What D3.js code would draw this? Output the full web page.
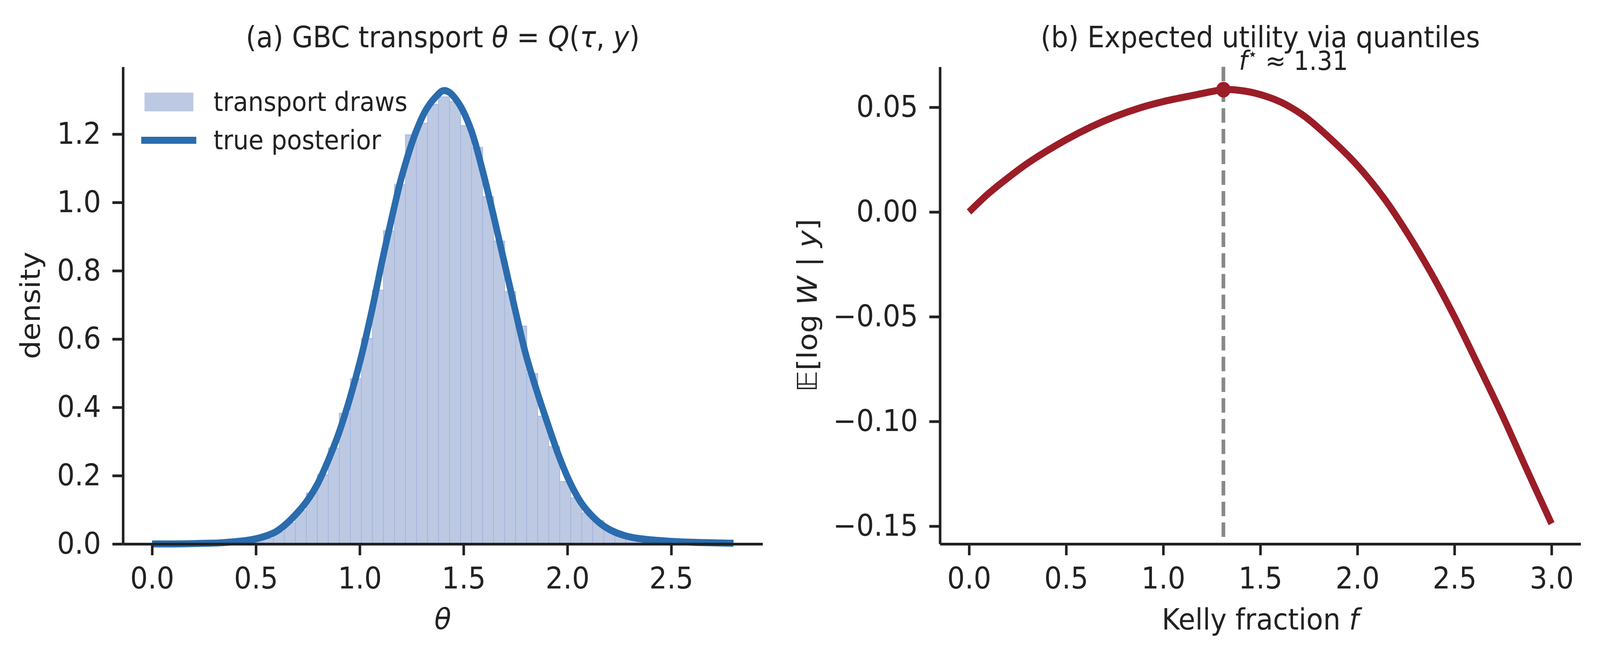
<!DOCTYPE html>
<html>
<head>
<meta charset="utf-8">
<script src="https://cdn.jsdelivr.net/npm/d3@7"></script>
<style>
  html, body { margin: 0; padding: 0; background: #fff; overflow: hidden; }
  svg { display: block; }
  text { font-family: "DejaVu Sans", sans-serif; fill: #222; }
</style>
</head>
<body>
<div id="viz"></div>
<script>
// ---- data ----
// (a) histogram of transport draws: first bin edge, bin width, density per bin
const histStart = 0.0;
const histBinWidth = 0.05306;
const histDensity = [
  0, 0, 0, 0, 0, 0.001, 0.001, 0.002, 0.003, 0.006,
  0.016, 0.035, 0.062, 0.098, 0.149, 0.203, 0.281, 0.383, 0.484, 0.602,
  0.743, 0.917, 1.052, 1.198, 1.232, 1.287, 1.309, 1.295, 1.225, 1.161,
  1.017, 0.887, 0.739, 0.638, 0.499, 0.374, 0.285, 0.183, 0.135, 0.091,
  0.068, 0.046, 0.030, 0.020, 0.013, 0.008, 0.005, 0.003, 0.002, 0.001
];

// (a) true posterior density
const postTheta = [0.00, 0.10, 0.20, 0.27, 0.32, 0.365, 0.406, 0.453, 0.50, 0.547,
  0.594, 0.637, 0.687, 0.740, 0.792, 0.845, 0.898, 0.953, 1.006, 1.058,
  1.111, 1.165, 1.202, 1.271, 1.323, 1.377, 1.400, 1.430, 1.483, 1.537,
  1.590, 1.643, 1.695, 1.749, 1.802, 1.856, 1.909, 1.962, 2.015, 2.067,
  2.122, 2.174, 2.227, 2.284, 2.342, 2.401, 2.518, 2.650, 2.800];
const postDensity = [0.000, 0.000, 0.001, 0.002, 0.003, 0.005, 0.007, 0.010, 0.015, 0.023,
  0.035, 0.054, 0.083, 0.121, 0.170, 0.240, 0.322, 0.427, 0.545, 0.682,
  0.837, 0.983, 1.075, 1.207, 1.275, 1.316, 1.327, 1.323, 1.284, 1.211,
  1.097, 0.965, 0.828, 0.684, 0.550, 0.442, 0.345, 0.253, 0.177, 0.120,
  0.080, 0.053, 0.035, 0.023, 0.016, 0.012, 0.007, 0.004, 0.002];

// (b) expected log-wealth against Kelly fraction
const kellyF = [0, 0.10, 0.21, 0.31, 0.50, 0.63, 0.75, 0.88, 1.00, 1.15,
  1.31, 1.37, 1.47, 1.60, 1.72, 1.84, 2.00, 2.14, 2.26, 2.38,
  2.50, 2.62, 2.75, 2.87, 3.00];
const kellyU = [0, 0.0088, 0.0170, 0.0238, 0.0345, 0.0407, 0.0455, 0.0497, 0.0527, 0.0556,
  0.0584, 0.0583, 0.0568, 0.0527, 0.0462, 0.0368, 0.0222, 0.0062, -0.0105, -0.0292,
  -0.0500, -0.0727, -0.0978, -0.1225, -0.1488];
const fStar = 1.31;
const uStar = 0.0584;

// tick values
const leftXTicks = [0, 0.5, 1.0, 1.5, 2.0, 2.5];
const leftYTicks = [0, 0.2, 0.4, 0.6, 0.8, 1.0, 1.2];
const rightXTicks = [0, 0.5, 1.0, 1.5, 2.0, 2.5, 3.0];
const rightYTicks = [-0.15, -0.10, -0.05, 0.00, 0.05];

// ---- layout ----
// drawn in a 4385x1689 frame, stretched to whatever the window gives us
const W = 4385, H = 1689;
const plotTop = 171, plotBottom = 1392;
const ink = "#222";
const blue = "#2a6cae", red = "#9b1d28";

const svg = d3.select("#viz").append("svg")
  .attr("viewBox", "0 0 " + W + " " + H)
  .attr("preserveAspectRatio", "none")
  .style("width", "100vw")
  .style("height", "100vh")
  .style("background", "#fff");

function styleAxis(g) {
  g.select(".domain").attr("stroke", ink).attr("stroke-width", 7);
  g.selectAll(".tick line").attr("stroke", ink).attr("stroke-width", 7);
  g.selectAll(".tick text")
    .attr("fill", ink)
    .style("font-family", "'DejaVu Sans', sans-serif")
    .style("font-size", "76px");
  g.attr("font-family", null).attr("font-size", null);
}

// ===== panel (a) =====
let xL = d3.scaleLinear().domain([-0.14, 2.94]).range([337, 2090]);
let yL = d3.scaleLinear().domain([0, 1.397]).range([plotBottom, plotTop]);

let gA = svg.append("g");

gA.selectAll("rect.bar")
  .data(histDensity.map((d, i) => ({ x0: histStart + i * histBinWidth, h: d })).filter(d => d.h > 0))
  .enter().append("rect")
  .attr("class", "bar")
  .attr("x", d => xL(d.x0))
  .attr("width", xL(histBinWidth) - xL(0))
  .attr("y", d => yL(d.h))
  .attr("height", d => yL(0) - yL(d.h))
  .attr("fill", "#bdc9e3")
  .attr("stroke", "#a3b5dc")
  .attr("stroke-width", 2);

let postLine = d3.line()
  .x((d, i) => xL(postTheta[i]))
  .y(d => yL(d))
  .curve(d3.curveCatmullRom.alpha(0.5));

gA.append("path")
  .datum(postDensity)
  .attr("d", postLine)
  .attr("fill", "none")
  .attr("stroke", blue)
  .attr("stroke-width", 18)
  .attr("stroke-linejoin", "round");

gA.append("g")
  .attr("transform", "translate(0," + plotBottom + ")")
  .call(d3.axisBottom(xL).tickValues(leftXTicks).tickFormat(d3.format(".1f"))
    .tickSize(29).tickSizeOuter(0).tickPadding(31))
  .call(styleAxis);

gA.append("g")
  .attr("transform", "translate(337,0)")
  .call(d3.axisLeft(yL).tickValues(leftYTicks).tickFormat(d3.format(".1f"))
    .tickSize(29).tickSizeOuter(0).tickPadding(31))
  .call(styleAxis);

// title
let tA = gA.append("text")
  .attr("x", (337 + 2090) / 2).attr("y", 121)
  .attr("text-anchor", "middle")
  .style("font-size", "74px");
tA.append("tspan").text("(a) GBC transport ");
tA.append("tspan").style("font-style", "italic").text("θ");
tA.append("tspan").text(" = ");
tA.append("tspan").style("font-style", "italic").text("Q");
tA.append("tspan").text("(");
tA.append("tspan").style("font-style", "italic").text("τ");
tA.append("tspan").text(", ");
tA.append("tspan").style("font-style", "italic").text("y");
tA.append("tspan").text(")");

gA.append("text")
  .attr("x", (337 + 2090) / 2).attr("y", 1610)
  .attr("text-anchor", "middle")
  .style("font-size", "75px").style("font-style", "italic")
  .text("θ");

gA.append("text")
  .attr("transform", "translate(109," + (plotTop + plotBottom) / 2 + ") rotate(-90)")
  .attr("text-anchor", "middle")
  .style("font-size", "75px")
  .text("density");

// legend
let leg = gA.append("g");
leg.append("rect")
  .attr("x", 396).attr("y", 237).attr("width", 134).attr("height", 48)
  .attr("fill", "#bdc9e3");
leg.append("line")
  .attr("x1", 387).attr("x2", 538).attr("y1", 359).attr("y2", 359)
  .attr("stroke", blue).attr("stroke-width", 18);
leg.append("text").attr("x", 585).attr("y", 284)
  .style("font-size", "67px").text("transport draws");
leg.append("text").attr("x", 585).attr("y", 382)
  .style("font-size", "67px").text("true posterior");

// ===== panel (b) =====
let xR = d3.scaleLinear().domain([-0.15, 3.15]).range([2576, 4332]);
let yR = d3.scaleLinear().domain([-0.1585, 0.0693]).range([plotBottom, plotTop]);

let gB = svg.append("g");

gB.append("line")
  .attr("x1", xR(fStar)).attr("x2", xR(fStar))
  .attr("y1", plotTop).attr("y2", plotBottom)
  .attr("stroke", "#888")
  .attr("stroke-width", 10)
  .attr("stroke-dasharray", "37,16");

let kellyLine = d3.line()
  .x((d, i) => xR(kellyF[i]))
  .y(d => yR(d))
  .curve(d3.curveCatmullRom.alpha(0.5));

gB.append("path")
  .datum(kellyU)
  .attr("d", kellyLine)
  .attr("fill", "none")
  .attr("stroke", red)
  .attr("stroke-width", 18)
  .attr("stroke-linejoin", "round");

gB.append("circle")
  .attr("cx", xR(fStar)).attr("cy", yR(uStar))
  .attr("r", 20)
  .attr("fill", red);

gB.append("g")
  .attr("transform", "translate(0," + plotBottom + ")")
  .call(d3.axisBottom(xR).tickValues(rightXTicks).tickFormat(d3.format(".1f"))
    .tickSize(29).tickSizeOuter(0).tickPadding(31))
  .call(styleAxis);

gB.append("g")
  .attr("transform", "translate(2576,0)")
  .call(d3.axisLeft(yR).tickValues(rightYTicks).tickFormat(d3.format(".2f"))
    .tickSize(29).tickSizeOuter(0).tickPadding(31))
  .call(styleAxis);

gB.append("text")
  .attr("x", (2576 + 4332) / 2).attr("y", 121)
  .attr("text-anchor", "middle")
  .style("font-size", "74px")
  .text("(b) Expected utility via quantiles");

// f* annotation
let ann = gB.append("text")
  .attr("x", xR(fStar + 0.08)).attr("y", 179)
  .style("font-size", "67px");
ann.append("tspan").style("font-style", "italic").text("f");
ann.append("tspan").attr("dy", -26).style("font-size", "44px").text("⋆");
ann.append("tspan").attr("dy", 26).text(" ≈ " + d3.format(".2f")(fStar));

let xlabB = gB.append("text")
  .attr("x", (2576 + 4332) / 2).attr("y", 1611)
  .attr("text-anchor", "middle")
  .style("font-size", "75px");
xlabB.append("tspan").text("Kelly fraction ");
xlabB.append("tspan").style("font-style", "italic").text("f");

let ylabB = gB.append("text")
  .attr("transform", "translate(2238," + (plotTop + plotBottom) / 2 + ") rotate(-90)")
  .attr("text-anchor", "middle")
  .style("font-size", "75px");
ylabB.append("tspan").style("font-style", "italic").text("𝔼");
ylabB.append("tspan").text("[log ");
ylabB.append("tspan").style("font-style", "italic").text("W");
ylabB.append("tspan").text(" | ");
ylabB.append("tspan").style("font-style", "italic").text("y");
ylabB.append("tspan").text("]");
</script>
</body>
</html>
